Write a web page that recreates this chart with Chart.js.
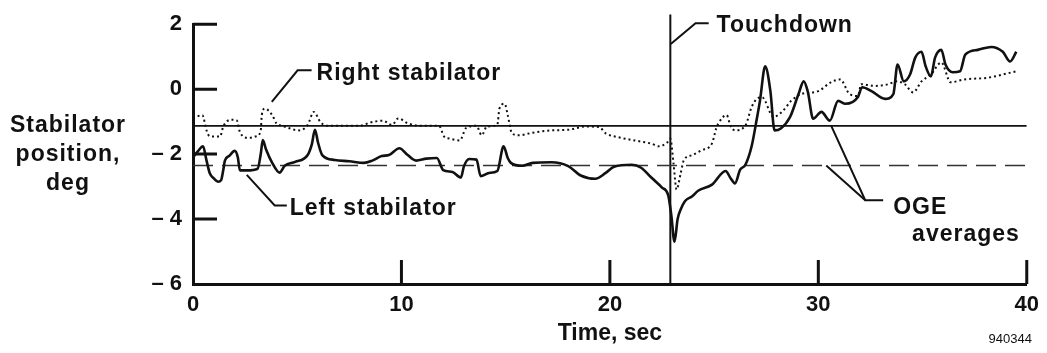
<!DOCTYPE html>
<html>
<head>
<meta charset="utf-8">
<script src="https://cdn.jsdelivr.net/npm/chart.js@4.4.0/dist/chart.umd.min.js"></script>
<style>
  html, body { margin: 0; padding: 0; background: #fff; }
  #wrap { width: 1047px; height: 353px; position: relative; }
</style>
</head>
<body>
<div id="wrap"><canvas id="stabChart"></canvas></div>
<script>
// stabilator position (deg) vs time (sec)
const leftTime = [0, 0.25, 0.48, 0.65, 0.8, 1.0, 1.2, 1.35, 1.45, 1.53, 1.75, 2.0, 2.15, 2.25, 2.6, 3.1, 3.25, 3.35, 3.5, 3.8,
  4.15, 4.4, 4.9, 5.5, 5.7, 5.85, 6.0, 6.2, 6.8, 7.5, 8.2, 8.6, 9.05, 9.4, 9.9, 10.3, 10.7, 11.2, 11.7, 12.0,
  12.45, 12.85, 13.0, 13.25, 13.6, 13.8, 14.2, 14.6, 14.9, 15.1, 15.25, 15.8, 16.3, 17.2, 18.0, 18.6, 19.3, 19.8, 20.2, 21.05,
  21.5, 22.0, 22.5, 22.8, 22.95, 23.1, 23.25, 23.4, 23.6, 23.95, 24.25, 24.9, 25.55, 25.8, 26.0, 26.25, 26.5, 26.8, 27.05, 27.2,
  27.45, 27.7, 27.9, 28.2, 28.65, 29.05, 29.3, 29.5, 29.75, 30.15, 30.55, 30.95, 31.3, 31.9, 32.1, 32.55, 33.2, 33.6, 33.8, 34.1,
  34.4, 34.65, 34.95, 35.15, 35.4, 35.6, 35.9, 36.1, 36.45, 36.8, 37.05, 37.65, 38.3, 38.85, 39.2, 39.5];
const leftPos = [-2.1, -1.9, -1.76, -2.2, -2.58, -2.75, -2.85, -2.8, -2.5, -2.2, -2.05, -1.9, -2.1, -2.5, -2.5, -2.45, -2.0, -1.57, -1.85, -2.27,
  -2.57, -2.36, -2.24, -2.03, -1.7, -1.25, -1.65, -2.03, -2.18, -2.22, -2.27, -2.2, -2.06, -2.03, -1.82, -2.03, -2.2, -2.14, -2.12, -2.49,
  -2.55, -2.72, -2.37, -2.15, -2.17, -2.68, -2.58, -2.52, -1.76, -2.12, -2.27, -2.36, -2.27, -2.25, -2.37, -2.66, -2.76, -2.58, -2.39, -2.33,
  -2.42, -2.73, -3.03, -3.27, -3.9, -4.7, -4.0, -3.7, -3.45, -3.3, -3.12, -2.94, -2.52, -2.75, -2.9, -2.48, -2.33, -1.76, -0.91, -0.36,
  0.7, -0.06, -1.27, -1.21, -0.85, -0.15, 0.24, -0.09, -0.91, -0.7, -0.97, -0.36, -0.45, -0.24, 0.06, -0.06, -0.3, -0.15, 0.76, 0.24,
  0.45, 0.97, 1.15, 0.7, 0.39, 0.97, 1.21, 0.76, 0.52, 0.55, 1.06, 1.21, 1.3, 1.15, 0.85, 1.15];

const rightTime = [0, 0.45, 0.65, 0.8, 1.3, 1.45, 1.85, 2.1, 2.25, 2.65, 3.05, 3.25, 3.3, 3.45, 3.8, 4.0, 4.3, 5.1, 5.5, 5.8,
  6.1, 6.4, 8.0, 8.5, 9.1, 9.55, 9.85, 10.3, 10.9, 11.8, 12.05, 12.3, 12.8, 13.1, 13.6, 13.85, 14.1, 14.6, 14.7, 14.95,
  15.1, 15.3, 15.65, 16.3, 17.2, 18.0, 18.85, 19.5, 19.8, 20.4, 21.2, 22.0, 22.35, 22.75, 22.9, 23.05, 23.2, 23.4, 23.55, 23.95,
  24.4, 24.9, 25.1, 25.2, 25.6, 25.8, 26.0, 26.5, 26.8, 27.05, 27.3, 27.85, 28.3, 28.7, 29.2, 30.0, 30.6, 31.05, 31.5, 31.9,
  32.05, 32.7, 33.35, 33.75, 34.15, 34.55, 34.95, 35.4, 35.9, 36.35, 37.0, 38.1, 39.5];
const rightPos = [-0.9, -0.8, -1.27, -1.45, -1.46, -1.15, -0.94, -0.96, -1.32, -1.5, -1.45, -1.27, -0.8, -0.6, -0.8, -1.05, -1.13, -1.27, -1.1, -0.7,
  -1.0, -1.13, -1.13, -1.03, -0.97, -1.1, -0.9, -1.05, -1.13, -1.13, -1.46, -1.52, -1.58, -1.2, -1.13, -1.42, -1.15, -1.1, -0.6, -0.45,
  -0.8, -1.36, -1.42, -1.34, -1.27, -1.25, -1.15, -1.17, -1.36, -1.48, -1.58, -1.68, -1.76, -1.64, -1.52, -2.27, -3.09, -2.58, -2.18, -2.03,
  -1.88, -1.67, -1.21, -1.06, -0.8, -1.15, -1.27, -1.12, -0.55, -0.3, -0.25, -0.85, -0.67, -0.36, -0.15, -0.06, 0.21, 0.3, -0.15, -0.21,
  0.15, 0.1, 0.15, 0.24, 0.15, -0.1, 0.24, 0.45, 0.82, 0.21, 0.3, 0.35, 0.55];

const ogeTime = [0, 40];
const rightOgeAvg = -1.13;
const leftOgeAvg = -2.35;
const touchdownTime = 22.9;

const xTicks = [0, 10, 20, 30, 40];
const yTicks = [-6, -4, -2, 0, 2];

const ink = '#111';
const fontFam = '"Liberation Sans", Arial, Helvetica, sans-serif';

const pts = (xs, ys) => xs.map((x, i) => ({ x: x, y: ys[i] }));

// ticks drawn inward from the axes
const inwardTicks = {
  id: 'inwardTicks',
  afterDatasetsDraw(chart) {
    const { ctx, chartArea: a, scales: { x, y } } = chart;
    ctx.save();
    ctx.strokeStyle = ink;
    ctx.lineWidth = 3;
    ctx.beginPath();
    xTicks.forEach(v => {
      if (v === x.min) return;
      const px = x.getPixelForValue(v);
      ctx.moveTo(px, a.bottom);
      ctx.lineTo(px, a.bottom - 24);
    });
    yTicks.forEach(v => {
      if (v === y.min) return;
      const py = y.getPixelForValue(v);
      ctx.moveTo(a.left, py);
      ctx.lineTo(a.left + 24, py);
    });
    ctx.stroke();
    ctx.restore();
  }
};

// callouts, y title and figure number
const callouts = {
  id: 'callouts',
  afterDraw(chart) {
    const { ctx, scales: { x, y } } = chart;
    const P = (t, v) => [x.getPixelForValue(t), y.getPixelForValue(v)];
    const leader = (list) => {
      ctx.beginPath();
      list.forEach((p, i) => {
        const [px, py] = P(p[0], p[1]);
        if (i === 0) ctx.moveTo(px, py); else ctx.lineTo(px, py);
      });
      ctx.stroke();
    };
    const label = (text, t, v, base) => {
      const [px, py] = P(t, v);
      ctx.textBaseline = base || 'middle';
      ctx.fillText(text, px, py);
    };

    ctx.save();
    ctx.strokeStyle = ink;
    ctx.fillStyle = ink;
    ctx.lineWidth = 2;
    ctx.font = 'bold 23px ' + fontFam;
    ctx.letterSpacing = '1px';
    ctx.textAlign = 'left';

    leader([[touchdownTime + 0.02, 1.39], [24.11, 2.03], [24.74, 2.03]]);
    label('Touchdown', 25.12, 1.94);

    leader([[3.78, -0.39], [5.02, 0.58], [5.69, 0.58]]);
    label('Right stabilator', 5.93, 0.48);

    leader([[2.58, -2.64], [3.92, -3.58], [4.5, -3.58]]);
    label('Left stabilator', 4.64, -3.67);

    leader([[30.62, rightOgeAvg], [32.25, -3.42], [33.11, -3.42]]);
    leader([[30.38, leftOgeAvg], [32.25, -3.42]]);
    label('OGE', 33.59, -3.64);
    label('averages', 34.5, -4.67, 'alphabetic');

    // y axis title, horizontal lines left of the ticks
    ctx.textAlign = 'center';
    ctx.textBaseline = 'alphabetic';
    ctx.fillText('Stabilator', 68, 132);
    ctx.fillText('position,', 68, 161);
    ctx.fillText('deg', 68, 190);

    ctx.letterSpacing = '0px';
    ctx.font = '13px ' + fontFam;
    ctx.textAlign = 'right';
    ctx.fillText('940344', 1032, 343);
    ctx.restore();
  }
};

new Chart(document.getElementById('stabChart'), {
  type: 'line',
  data: {
    datasets: [
      {
        label: 'Left stabilator',
        data: pts(leftTime, leftPos),
        borderColor: ink,
        borderWidth: 2.6,
        pointRadius: 0,
        cubicInterpolationMode: 'monotone'
      },
      {
        label: 'Right stabilator',
        data: pts(rightTime, rightPos),
        borderColor: ink,
        borderWidth: 2,
        borderDash: [2, 3],
        pointRadius: 0,
        cubicInterpolationMode: 'monotone'
      },
      {
        label: 'Right OGE average',
        data: pts(ogeTime, ogeTime.map(() => rightOgeAvg)),
        borderColor: ink,
        borderWidth: 1.6,
        pointRadius: 0
      },
      {
        label: 'Left OGE average',
        data: pts(ogeTime, ogeTime.map(() => leftOgeAvg)),
        borderColor: '#333',
        borderWidth: 1.6,
        borderDash: [20, 9],
        pointRadius: 0
      },
      {
        label: 'Touchdown',
        data: pts([touchdownTime, touchdownTime], [-6, 2.3]),
        borderColor: ink,
        borderWidth: 2,
        pointRadius: 0,
        clip: false
      }
    ]
  },
  options: {
    responsive: true,
    maintainAspectRatio: false,
    animation: false,
    events: [],
    layout: { padding: { top: 20, right: 18, left: 0, bottom: 0 } },
    plugins: { legend: { display: false }, tooltip: { enabled: false } },
    scales: {
      x: {
        type: 'linear',
        min: 0,
        max: 40,
        afterBuildTicks: (s) => { s.ticks = xTicks.map(v => ({ value: v })); },
        afterFit: (s) => { s.height = 69; },
        grid: { display: false, drawTicks: false },
        border: { display: true, width: 3, color: ink },
        ticks: { color: ink, padding: 8, maxRotation: 0, font: { family: fontFam, size: 22, weight: 'bold' } },
        title: { display: true, text: 'Time, sec', color: ink, padding: { top: 0, bottom: 6 }, font: { family: fontFam, size: 23, weight: 'bold' } }
      },
      y: {
        min: -6,
        max: 2,
        afterBuildTicks: (s) => { s.ticks = yTicks.map(v => ({ value: v })); },
        afterFit: (s) => { s.width = 193; },
        grid: { display: false, drawTicks: false },
        border: { display: true, width: 3, color: ink },
        ticks: {
          color: ink,
          padding: 11,
          font: { family: fontFam, size: 22, weight: 'bold' },
          callback: (v) => v < 0 ? '\u2013 ' + (-v) : String(v)
        }
      }
    }
  },
  plugins: [inwardTicks, callouts]
});
</script>
</body>
</html>
